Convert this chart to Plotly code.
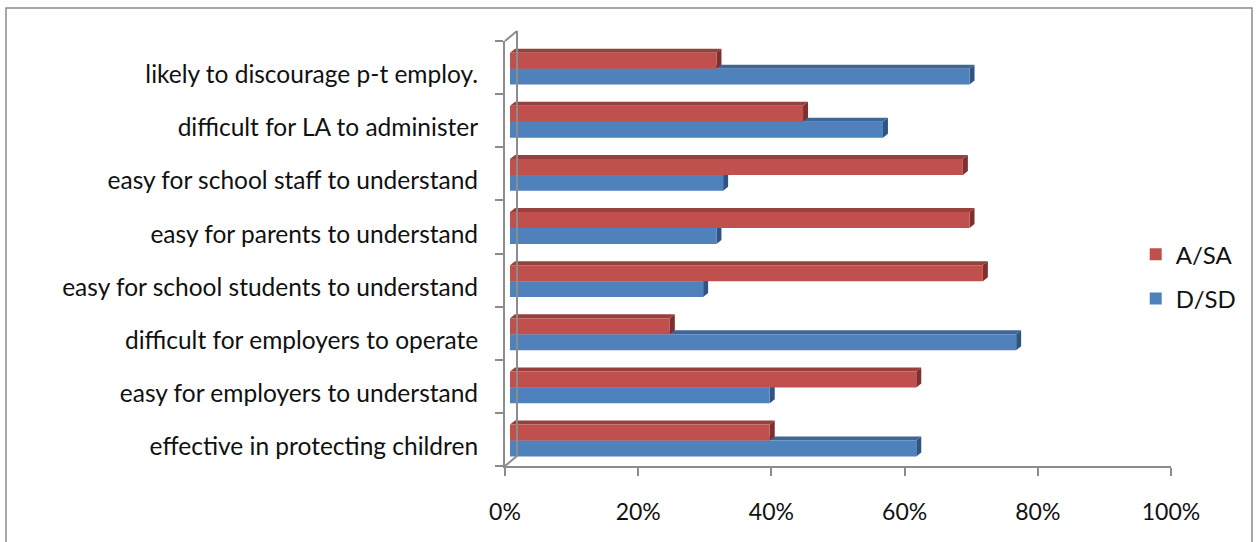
import plotly.graph_objects as go

# Survey statements, listed bottom-to-top as they sit on the y axis
categories = [
    "effective in protecting children",
    "easy for employers to understand",
    "difficult for employers to operate",
    "easy for school students to understand",
    "easy for parents to understand",
    "easy for school staff to understand",
    "difficult for LA to administer",
    "likely to discourage p-t employ.",
]
agree_pct = [39, 61, 24, 71, 69, 68, 44, 31]       # A/SA
disagree_pct = [61, 39, 76, 29, 31, 32, 56, 69]    # D/SD
x_tick_values = [0, 20, 40, 60, 80, 100]
x_tick_labels = ["0%", "20%", "40%", "60%", "80%", "100%"]

positions = list(range(len(categories)))

RED = "#C0504D"
RED_TOP = "#97403D"
RED_SIDE = "#7E302E"
BLUE = "#4F81BD"
BLUE_TOP = "#3D6699"
BLUE_SIDE = "#2F5483"
AXIS_GREY = "#8C8C8C"
FONT = "Lato, Carlito, Calibri, sans-serif"

BAR_W = 0.3
RED_OFF = -0.02
BLUE_OFF = RED_OFF - BAR_W
DX = 0.75    # bar depth along x (x2 units)
DY = 0.075   # bar depth along y (y units)

fig = go.Figure()

# empty trace so the front (labelled) x axis has a subplot of its own
fig.add_trace(go.Scatter(x=[], y=[], xaxis="x", yaxis="y", showlegend=False, hoverinfo="skip"))

fig.add_trace(go.Bar(
    name="D/SD", y=positions, x=disagree_pct, orientation="h",
    width=BAR_W, offset=BLUE_OFF, marker=dict(color=BLUE, line=dict(width=0)),
    xaxis="x2", yaxis="y", legendgroup="dsd", legendrank=2,
))
fig.add_trace(go.Bar(
    name="A/SA", y=positions, x=agree_pct, orientation="h",
    width=BAR_W, offset=RED_OFF, marker=dict(color=RED, line=dict(width=0)),
    xaxis="x2", yaxis="y", legendgroup="asa", legendrank=1,
))


def depth_faces(value, y0, y1, top_col, side_col):
    top = f"M 0,{y1} L {value},{y1} L {value + DX},{y1 + DY} L {DX},{y1 + DY} Z"
    side = (f"M {value},{y0} L {value + DX},{y0 + DY} L {value + DX},{y1 + DY} "
            f"L {value},{y1} Z")
    return [
        dict(type="path", path=top, xref="x2", yref="y", fillcolor=top_col,
             line=dict(width=0), layer="below"),
        dict(type="path", path=side, xref="x2", yref="y", fillcolor=side_col,
             line=dict(width=0), layer="below"),
    ]


shapes = []
for p, v in zip(positions, disagree_pct):
    shapes += depth_faces(v, p + BLUE_OFF, p + BLUE_OFF + BAR_W, BLUE_TOP, BLUE_SIDE)
for p, v in zip(positions, agree_pct):
    shapes += depth_faces(v, p + RED_OFF, p + RED_OFF + BAR_W, RED_TOP, RED_SIDE)

# back wall edge of the 3-D frame
PLOT_W = 1171 - 505
PLOT_H = 466 - 41
bx = (517 - 505) / PLOT_W
by = 10 / PLOT_H
wall = dict(color=AXIS_GREY, width=2)
shapes += [
    dict(type="line", xref="paper", yref="paper", x0=bx, x1=bx, y0=by, y1=1 + by, line=wall),
    dict(type="line", xref="paper", yref="paper", x0=0, x1=bx, y0=1, y1=1 + by, line=wall),
    dict(type="line", xref="paper", yref="paper", x0=0, x1=bx, y0=0, y1=by, line=wall),
]

# outer chart frame
shapes.append(dict(
    type="rect", xref="paper", yref="paper",
    x0=(6 - 505) / PLOT_W, x1=(1252 - 505) / PLOT_W,
    y0=-0.3, y1=(466 - 8) / PLOT_H,
    line=dict(color="#8A8A8A", width=1.5), fillcolor="rgba(0,0,0,0)", layer="below",
))

fig.update_layout(
    width=1256, height=542,
    margin=dict(l=505, r=1256 - 1171, t=41, b=542 - 466),
    paper_bgcolor="white", plot_bgcolor="white",
    barmode="overlay",
    font=dict(family=FONT, size=24, color="#111111"),
    shapes=shapes,
    xaxis=dict(
        range=[0, 100], tickvals=x_tick_values, ticktext=x_tick_labels,
        tickfont=dict(size=23),
        showgrid=False, zeroline=False, showline=True, linecolor=AXIS_GREY, linewidth=2,
        ticks="outside", ticklen=8, tickwidth=2, tickcolor=AXIS_GREY,
        ticklabelstandoff=16, fixedrange=True,
    ),
    xaxis2=dict(range=[-DX, 100 - DX], overlaying="x", anchor="y", visible=False,
                fixedrange=True),
    yaxis=dict(
        range=[-0.5, len(categories) - 0.5], tickvals=positions, ticktext=categories,
        tickfont=dict(size=24.5),
        ticks="", showgrid=False, zeroline=False, showline=True,
        linecolor=AXIS_GREY, linewidth=2,
        ticklabelstandoff=20, ticklabelshift=7, fixedrange=True,
        minor=dict(tickvals=[i - 0.5 for i in range(len(categories) + 1)],
                   ticks="outside", ticklen=8, tickwidth=2, tickcolor=AXIS_GREY),
    ),
    legend=dict(
        x=0.947, y=0.55, xanchor="left", yanchor="top",
        traceorder="grouped", tracegroupgap=10,
        font=dict(size=24), bgcolor="rgba(0,0,0,0)",
    ),
)

fig.write_html("out.html")
